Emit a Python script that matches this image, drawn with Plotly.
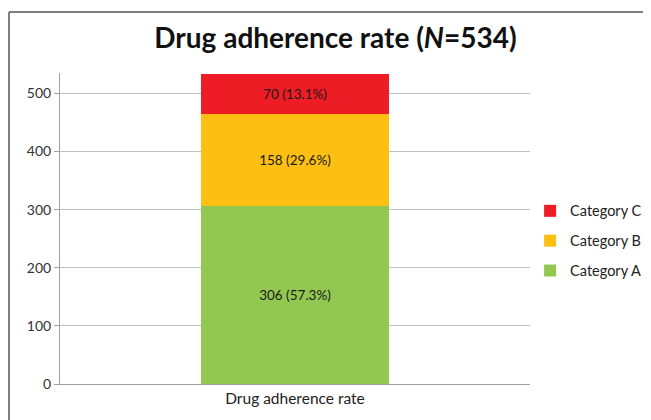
import plotly.graph_objects as go

category = ["Drug adherence rate"]
series_names = ["Category A", "Category B", "Category C"]
series_values = [306, 158, 70]
series_colors = ["#92c851", "#fcbf12", "#ee1c25"]
y_ticks = [0, 100, 200, 300, 400, 500]
total_n = sum(series_values)

fig = go.Figure()
n_series = len(series_names)
for i, (name, val, col) in enumerate(zip(series_names, series_values, series_colors)):
    fig.add_trace(go.Bar(
        x=category, y=[val], name=name, legendgroup=name,
        legendrank=n_series - i,
        marker=dict(color=col, line=dict(width=0)),
        text=[f"{val} ({val / total_n * 100:.1f}%)"],
        textposition="inside", insidetextanchor="middle",
        textfont=dict(color="#1a1a1a", size=13.5, family="Lato"),
        width=0.4,
    ))

fig.update_layout(
    width=651, height=420,
    barmode="stack",
    paper_bgcolor="white", plot_bgcolor="white",
    margin=dict(l=52, r=129, t=65, b=44, autoexpand=False),
    font=dict(family="Lato", size=14, color="#333333"),
    title=dict(text="Drug adherence rate (<i>N</i>=534)", x=0.503, xanchor="center",
               y=0.929, yanchor="middle",
               font=dict(family="Lato", size=28, color="#111111", weight="bold")),
    showlegend=True,
    legend=dict(xref="container", yref="container", x=0.802, y=0.555,
                xanchor="left", yanchor="top",
                traceorder="grouped", tracegroupgap=8,
                font=dict(size=14.5, color="#222222"), itemwidth=30),
)
fig.update_yaxes(range=[0, 535], tickvals=y_ticks, showgrid=True, gridcolor="#c0c0c0",
                 gridwidth=1, showline=True, linecolor="#a0a0a0", linewidth=1,
                 ticks="outside", ticklen=5, tickcolor="#a0a0a0", zeroline=False,
                 tickfont=dict(size=14, color="#333333"))
fig.update_xaxes(showline=True, linecolor="#a0a0a0", linewidth=1, ticks="",
                 tickfont=dict(size=15.5, color="#222222"))

# outer frame (top and left edges of the chart border)
fig.add_shape(type="line", xref="paper", yref="paper", x0=-0.1085, x1=1.257, y0=1.196, y1=1.196,
              line=dict(color="#555555", width=1.5))
fig.add_shape(type="line", xref="paper", yref="paper", x0=-0.1085, x1=-0.1085, y0=-0.14, y1=1.196,
              line=dict(color="#555555", width=1.5))

fig.write_html("out.html")
